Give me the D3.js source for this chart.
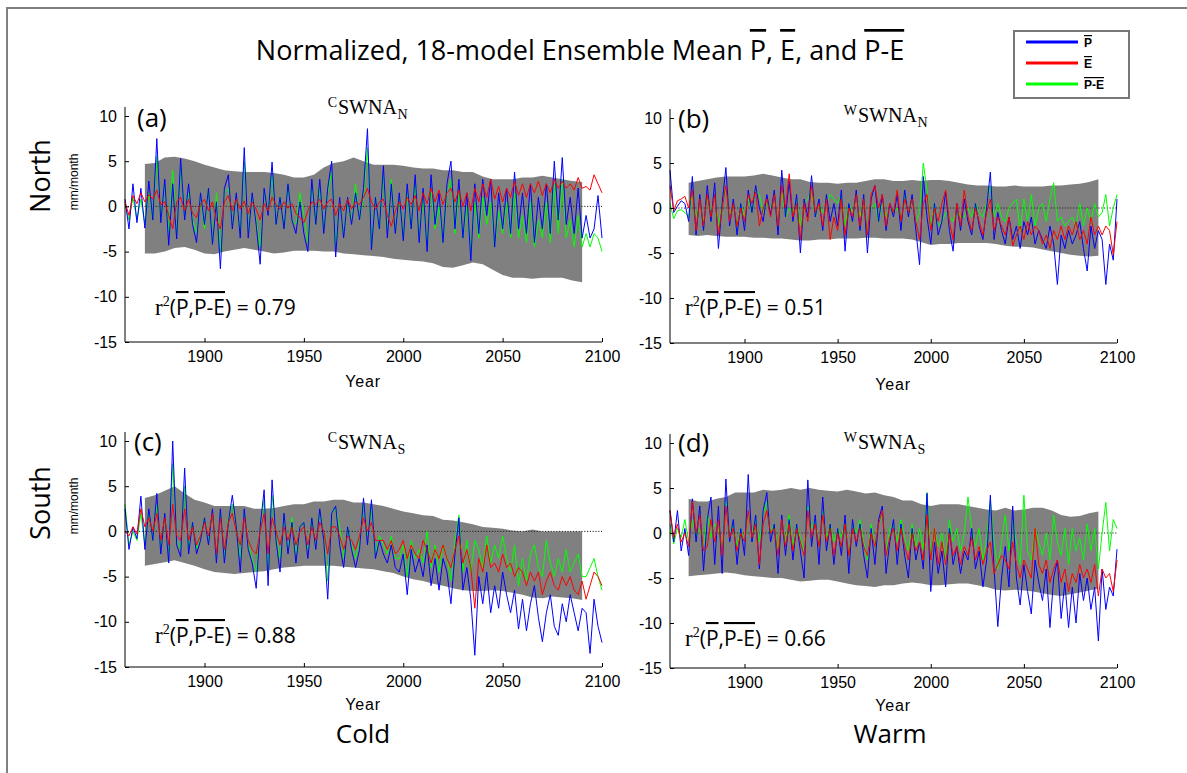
<!DOCTYPE html>
<html><head><meta charset="utf-8">
<script src="https://cdn.jsdelivr.net/npm/d3@7"></script>
<style>body{margin:0;background:#fff}svg{display:block}</style>
</head><body>
<svg id="chart" width="1187" height="773"></svg>
<script>
// ---------- DATA ----------
const yearsLine = [1860,1862,1864,1866,1868,1870,1872,1874,1876,1878,
1880,1882,1884,1886,1888,1890,1892,1894,1896,1898,
1900,1902,1904,1906,1908,1910,1912,1914,1916,1918,
1920,1922,1924,1926,1928,1930,1932,1934,1936,1938,
1940,1942,1944,1946,1948,1950,1952,1954,1956,1958,
1960,1962,1964,1966,1968,1970,1972,1974,1976,1978,
1980,1982,1984,1986,1988,1990,1992,1994,1996,1998,
2000,2002,2004,2006,2008,2010,2012,2014,2016,2018,
2020,2022,2024,2026,2028,2030,2032,2034,2036,2038,
2040,2042,2044,2046,2048,2050,2052,2054,2056,2058,
2060,2062,2064,2066,2068,2070,2072,2074,2076,2078,
2080,2082,2084,2086,2088,2090,2092,2094,2096,2098,
2100];
const yearsEnv = [1870,1875,1880,1885,1890,1895,
1900,1905,1910,1915,1920,1925,1930,1935,1940,1945,
1950,1955,1960,1965,1970,1975,1980,1985,1990,1995,
2000,2005,2010,2015,2020,2025,2030,2035,2040,2045,
2050,2055,2060,2065,2070,2075,2080,2085,2090];
const xTicks = [1900,1950,2000,2050,2100];
const yTicks = [-15,-10,-5,0,5,10];

// (a) Cold North
const aP = [0.8,-2.5,2.5,-1.8,2.0,-2.4,2.8,-1.5,7.5,-1.8,
3.0,-4.3,2.5,-3.6,5.3,-1.5,2.5,-2.0,-4.0,1.5,
-2.0,2.0,-4.2,0.5,-6.9,2.0,3.5,-2.5,1.5,-3.5,
6.5,-3.5,1.5,-2.0,-6.4,2.0,-1.0,4.9,-2.0,1.0,
-2.5,2.5,-1.5,-3.0,0.5,-3.0,-5.0,3.0,-2.0,3.0,
-3.0,2.0,5.0,-5.6,1.0,-3.5,1.0,-2.0,1.5,-1.5,
2.0,8.6,-4.8,1.0,-2.5,4.5,-3.5,2.5,-3.0,1.5,
-3.8,2.5,-2.5,3.5,-4.0,2.0,-5.0,3.5,-2.0,1.5,
-4.0,2.5,5.0,-2.5,3.0,-3.5,1.5,-6.0,2.5,-3.0,
3.0,-1.0,3.0,-4.5,1.5,-2.5,2.0,-3.0,3.8,-2.5,
1.5,-3.0,2.5,-4.0,1.0,-2.5,2.5,-3.0,5.0,-1.5,
5.4,-2.0,1.0,-3.0,2.0,-3.5,-1.0,-3.5,-2.5,1.2,
-3.5];
const aE = [0.5,-1.0,1.2,0.3,1.5,0.5,1.3,0.8,1.8,0.2,
0.5,-1.0,-2.5,0.5,1.0,-0.5,0.8,-0.8,-1.2,0.3,
0.8,-0.5,0.5,-1.5,-2.5,0.5,1.2,-0.5,0.8,-0.3,
0.6,-0.8,0.5,-0.3,-1.5,0.3,-0.5,1.0,0.2,-0.3,
0.5,-0.2,0.3,-0.8,-1.2,-1.8,-0.5,0.5,0.2,0.8,
-0.3,0.5,0.8,-1.0,0.3,-0.5,0.8,-0.3,0.5,0.2,
1.0,2.0,0.5,-0.3,0.5,0.8,-1.0,-2.2,-0.5,0.5,
-0.3,1.0,0.2,1.2,-0.5,1.5,0.3,2.0,0.5,1.8,
0.2,1.5,2.0,0.5,1.8,0.0,1.5,-0.5,2.0,0.5,
2.5,1.0,3.0,0.8,2.2,0.5,2.0,1.0,2.8,1.2,
2.5,1.0,2.5,1.5,2.8,1.2,2.5,1.5,3.0,2.0,
2.8,2.0,2.5,1.8,3.2,2.0,2.2,1.8,3.5,2.5,
1.5];
const aPE = [0.3,-1.5,1.0,-1.5,0.8,-2.0,1.5,-1.5,5.5,-1.5,
2.5,-3.0,4.0,-3.0,4.5,-1.0,1.5,-1.5,-3.0,1.0,
-2.5,2.0,-4.0,1.5,-5.0,1.5,2.0,-2.0,0.8,-3.0,
5.0,-2.8,1.0,-1.5,-4.5,1.5,-0.5,3.5,-2.0,1.0,
-2.5,2.5,-1.5,-2.0,1.5,-1.0,-4.0,2.5,-2.0,2.0,
-2.5,1.5,3.8,-4.5,0.5,-3.0,0.3,-1.5,2.5,-1.5,
1.0,6.5,-4.5,1.0,-2.5,3.5,-2.5,3.0,-2.5,1.0,
-3.5,1.5,-2.5,2.5,-3.5,0.8,-4.5,2.0,-2.5,0.0,
-4.0,1.5,3.0,-3.0,1.5,-3.5,0.0,-5.0,0.5,-3.5,
1.0,-2.0,0.5,-4.5,-0.5,-3.0,0.5,-3.5,1.5,-3.5,
-1.0,-4.0,0.5,-4.5,-1.5,-3.5,0.5,-4.0,2.5,-3.0,
3.0,-3.5,-1.5,-4.5,-1.0,-4.5,-3.0,-4.5,-3.0,-3.5,
-5.0];
const aUp = [4.7,4.8,5.4,5.5,5.3,5.0,
4.6,4.3,4.0,3.9,3.8,3.8,3.8,3.7,3.5,3.2,
3.2,3.5,4.3,4.8,5.0,5.4,5.0,4.6,4.6,4.6,
4.5,4.3,4.2,4.2,4.0,4.0,3.8,3.8,3.3,3.0,
3.0,3.0,3.2,3.2,3.4,3.2,3.0,2.8,2.7];
const aLo = [-5.2,-5.2,-5.0,-4.6,-4.5,-4.8,
-5.2,-5.3,-5.0,-4.8,-4.6,-4.8,-5.0,-5.2,-5.1,-4.9,
-4.9,-4.9,-5.0,-5.0,-5.2,-5.3,-5.4,-5.5,-5.6,-5.8,
-5.9,-6.0,-6.1,-6.3,-6.7,-6.8,-6.5,-6.2,-6.4,-7.0,
-7.6,-7.9,-7.9,-8.0,-7.9,-7.9,-7.9,-8.2,-8.4];

// (b) Warm North
const bP = [4.2,-0.5,0.2,0.8,0.5,-1.5,3.5,-3.0,1.5,-2.5,
2.5,-1.5,2.8,-4.5,0.5,4.5,-2.0,1.0,-3.0,0.5,
-2.5,2.0,-0.5,2.5,0.0,-1.5,1.5,-0.8,2.0,-3.0,
4.2,-1.0,3.0,-1.5,1.5,-5.0,1.0,-1.0,3.6,-1.0,
1.0,-2.5,1.5,-1.5,0.5,-2.0,2.0,-4.8,0.5,-1.5,
2.0,-2.5,1.5,-5.0,1.0,2.5,-1.5,1.5,-2.5,0.5,
-1.0,1.5,-2.5,2.0,-1.0,1.5,-2.5,-6.3,3.5,-1.0,
-4.0,0.5,-3.0,-1.5,1.8,-2.5,-4.8,0.5,-2.5,1.0,
-1.5,-3.0,0.5,-2.0,-3.5,0.0,4.0,-3.5,-0.5,-2.5,
-4.0,-1.0,-3.5,-2.0,-4.5,-1.5,-3.0,-1.0,-4.0,-2.5,
-3.5,-4.5,-2.0,-4.0,-8.5,-3.0,-4.5,-2.5,-4.0,-3.0,
-1.5,-4.5,-7.0,-2.0,-4.5,-2.5,-3.5,-8.5,-4.0,-5.8,
1.0];
const bE = [2.5,-0.3,0.8,1.0,1.3,0.0,2.0,-2.5,1.0,-2.0,
1.5,-1.0,1.5,-3.0,0.0,2.5,-1.5,0.5,-2.0,0.0,
-1.5,1.5,0.5,1.8,-2.0,0.0,1.0,-1.0,1.5,-2.0,
2.5,0.0,3.8,-1.0,0.5,-3.5,0.5,-1.5,2.5,-0.5,
0.5,-2.0,1.0,-3.5,-1.0,-2.5,1.0,-3.0,0.0,-1.0,
1.5,-2.0,1.0,-3.0,1.5,2.5,0.0,1.5,-2.0,0.5,
-0.5,2.0,-1.5,1.0,-0.5,1.0,-1.5,-3.5,0.5,1.5,
-2.5,0.0,-1.5,0.5,2.0,-1.5,-3.5,0.5,-2.0,2.0,
-1.0,-2.5,0.0,-1.5,-3.0,-0.5,1.0,-2.5,-1.0,-2.0,
-3.0,-1.0,-4.2,-3.0,-2.0,-3.5,-1.5,-3.0,-2.0,-2.5,
-4.0,-3.0,-4.5,-2.5,-3.5,-2.0,-3.5,-2.0,-3.0,-1.5,
-3.5,-2.5,-4.0,-1.0,-3.0,-2.0,-3.0,-2.0,-2.5,-5.2,
-1.5];
const bPE = [0.5,-1.2,-0.3,-0.2,-0.5,-1.0,1.5,-1.0,0.5,-1.5,
1.0,-0.5,1.5,-2.0,0.5,2.0,-1.0,0.5,-2.0,0.5,
-1.0,1.0,-0.5,2.0,1.5,-0.5,0.5,0.0,1.0,-1.5,
2.0,-1.0,0.0,-0.5,1.0,-2.0,0.5,1.0,2.0,-1.0,
0.5,-0.5,0.5,1.5,1.0,0.5,1.5,-2.0,0.5,-0.5,
1.0,-1.0,1.0,-2.5,0.0,0.5,-1.5,0.5,-1.0,0.0,
-0.5,0.0,-1.5,1.5,-0.5,1.0,-1.5,-0.5,5.0,2.0,
-2.0,0.5,-2.0,-1.5,-0.5,-1.0,-1.5,0.0,-1.0,-1.0,
0.0,-1.0,0.5,-0.5,-1.0,0.5,2.5,-1.0,0.5,-1.0,
-1.5,0.0,0.5,1.0,-2.5,1.0,-1.5,1.5,-2.0,0.0,
0.5,-1.5,1.0,2.8,-1.5,-1.0,-2.0,-1.5,-1.0,-2.0,
0.5,-2.0,0.0,-1.5,0.5,-1.0,-0.5,1.5,-2.0,0.0,
1.5];
const bUp = [2.8,3.0,3.2,3.4,3.5,3.5,
3.5,3.6,3.8,3.6,3.4,3.2,3.2,2.9,2.8,2.8,
2.7,2.8,2.8,3.0,3.2,3.2,3.0,3.0,3.1,3.0,
3.1,3.1,3.0,2.8,2.6,2.5,2.5,2.4,2.4,2.5,
2.4,2.4,2.4,2.5,2.5,2.6,2.7,2.9,3.2];
const bLo = [-3.0,-3.1,-3.0,-3.1,-3.2,-3.2,
-3.2,-3.3,-3.3,-3.4,-3.4,-3.5,-3.6,-3.6,-3.5,-3.5,
-3.4,-3.4,-3.4,-3.3,-3.3,-3.4,-3.4,-3.4,-3.5,-3.8,
-4.1,-4.0,-4.0,-3.9,-3.9,-3.9,-3.9,-4.0,-4.2,-4.3,
-4.3,-4.4,-4.6,-4.8,-5.0,-5.2,-5.3,-5.4,-5.3];

// (c) Cold South
const cP = [2.5,-2.0,0.5,-0.8,3.9,-2.0,2.5,-1.0,4.2,-2.5,
2.0,-3.5,10.0,-1.5,-2.8,7.0,-2.5,1.0,-2.5,-1.0,
1.5,-1.5,2.5,-3.5,2.5,-3.5,1.0,4.0,0.5,-4.5,
2.5,-2.0,-3.5,-6.3,0.5,4.6,-6.0,5.7,-1.0,-4.5,
2.0,-2.5,1.0,-3.5,0.5,1.0,-3.0,1.5,-2.0,2.5,
-1.0,-7.5,2.0,2.8,-1.5,-4.0,0.5,-2.0,-4.0,-2.0,
3.7,-1.5,3.5,-3.0,-1.0,-2.5,-3.5,-1.5,-4.0,-4.5,
-2.5,-7.0,-2.0,-4.5,-3.0,-5.0,-1.5,-6.0,-3.0,-6.5,
-3.0,-4.5,-8.0,-2.5,1.5,-6.5,-4.0,-7.5,-13.7,-5.0,
-8.0,-4.5,-9.0,-6.0,-8.5,-4.5,-7.0,-9.0,-6.5,-10.8,
-7.5,-11.0,-8.0,-6.0,-9.5,-12.2,-9.0,-7.0,-10.5,-11.5,
-8.0,-10.0,-7.0,-9.0,-11.0,-8.5,-9.0,-13.5,-7.5,-10.5,
-12.3];
const cE = [0.0,-0.5,0.5,-0.3,2.5,0.5,1.5,0.0,2.0,-1.0,
1.5,-1.5,3.0,-0.5,-1.0,2.5,-1.0,0.5,-1.5,-0.5,
1.0,-0.5,2.0,-2.5,1.5,-2.0,1.0,2.0,0.0,-1.5,
1.5,-1.0,-2.0,-2.5,0.0,2.0,-2.5,1.5,0.0,-1.5,
0.5,-1.0,0.5,-1.5,0.0,0.5,-1.5,0.5,-1.0,1.0,
0.0,-2.5,0.5,0.5,-0.5,-2.0,-0.5,-1.0,-2.0,-0.5,
1.5,0.0,1.0,-1.0,-1.0,-1.0,-2.0,-1.0,-2.5,-2.0,
-1.0,-3.0,-1.5,-2.5,-3.0,-1.0,-2.0,-3.5,-2.0,-3.0,
-1.5,-3.0,-4.0,-2.0,-0.5,-3.5,-2.0,-4.0,-8.5,-3.0,
-4.5,-1.5,-4.0,-3.5,-4.5,-2.5,-4.0,-3.5,-5.0,-4.0,
-4.5,-6.0,-4.5,-5.5,-4.5,-7.0,-5.5,-4.5,-6.0,-6.5,
-5.0,-6.0,-5.0,-6.5,-7.0,-5.5,-7.5,-6.0,-4.5,-5.0,
-6.0];
const cPE = [3.0,-1.5,0.0,-1.0,2.0,-1.5,2.0,-1.0,3.0,-2.0,
1.5,-2.5,7.5,-1.0,-2.0,5.0,-2.0,1.0,-2.0,-0.5,
1.5,-1.0,2.0,-3.0,2.0,-3.0,1.5,3.0,0.5,-3.0,
2.0,-1.5,-3.0,-4.5,0.5,3.5,-4.5,4.0,-0.5,-3.0,
1.5,-2.0,1.5,-2.5,0.5,1.0,-2.0,1.5,-1.5,2.0,
-0.5,-5.5,2.0,2.5,0.5,-3.0,0.5,-1.5,-3.0,-1.0,
3.0,-0.5,2.5,-2.5,-0.5,-1.5,-2.5,-0.5,-3.0,-3.0,
-1.5,-5.0,-1.0,-3.0,-2.0,-3.5,0.0,-4.0,-1.5,-4.5,
-1.5,-3.0,-5.5,-1.0,1.8,-4.5,-1.0,-4.5,-1.0,-2.0,
-4.0,-0.5,-3.5,-1.5,-3.0,-0.5,-3.0,-4.5,-1.5,-6.0,
-3.0,-5.5,-2.5,-1.5,-4.0,-5.0,-1.0,-3.5,-5.0,-3.0,
-4.5,-2.0,-4.5,-3.5,-2.5,-5.0,-5.0,-4.0,-3.0,-5.0,
-6.5];
const cUp = [3.7,4.0,4.5,5.0,4.2,3.5,
3.2,2.8,2.8,2.8,2.8,2.5,2.5,2.6,2.8,3.0,
3.0,3.3,3.3,3.5,3.5,3.2,3.2,3.0,2.8,2.5,
2.2,2.0,1.8,1.7,1.3,1.2,1.0,0.8,0.5,0.4,
0.3,0.1,0.0,0.2,0.0,0.0,0.0,0.0,0.0];
const cLo = [-3.8,-3.6,-3.4,-3.2,-3.5,-3.8,
-4.2,-4.5,-4.6,-4.7,-4.6,-4.5,-4.4,-4.2,-4.0,-3.9,
-3.8,-3.8,-3.8,-3.8,-3.9,-4.0,-4.1,-4.2,-4.4,-4.6,
-5.0,-5.3,-5.5,-5.8,-6.0,-6.3,-6.5,-6.6,-6.6,-6.5,
-6.6,-6.8,-7.0,-7.3,-7.4,-7.2,-7.3,-7.4,-7.6];

// (d) Warm South
const dP = [2.5,-1.0,2.5,-2.0,0.5,-2.5,3.8,-1.0,3.0,-4.2,
1.5,4.0,-3.5,3.0,-4.5,6.0,-1.0,1.5,-3.5,0.5,
-2.5,6.5,-1.0,2.0,-4.0,2.5,4.5,-1.0,1.0,-4.5,
2.0,-2.5,1.5,-3.0,1.0,-2.0,-5.0,5.9,-1.5,2.0,
-3.5,4.0,-2.0,1.0,-3.5,0.5,-2.5,2.0,-4.5,1.5,
-1.5,1.0,-2.5,-5.0,0.5,-3.5,1.5,3.0,-4.5,-1.0,
1.5,-3.5,1.0,-2.5,-5.0,0.5,-3.0,-1.0,-4.0,4.4,
-6.5,-1.0,-4.5,-2.0,-6.0,0.5,-3.5,-1.5,-4.5,-2.0,
-3.0,0.5,-4.0,-2.0,-6.0,-3.0,4.2,-4.0,-10.4,-5.0,
-1.5,-6.0,3.0,-5.0,-8.0,-3.5,-6.5,-9.0,-3.0,-5.5,
-7.5,-4.0,-10.5,-5.0,-3.0,-9.5,-5.5,-10.5,-6.0,-10.0,
-4.5,-7.5,-5.0,-8.5,-6.0,-12.0,-4.0,-8.5,-6.0,-7.0,
-1.8];
const dE = [2.5,-0.5,1.0,-1.0,0.0,-1.5,3.5,0.0,2.0,-2.0,
-1.5,1.5,-1.0,1.5,-2.5,3.0,-0.5,0.5,-2.0,0.0,
-1.0,2.5,-0.5,1.0,-3.5,1.0,2.5,0.0,0.5,-2.5,
1.5,-1.5,1.0,-2.0,0.5,-1.0,-2.5,2.5,-0.5,1.0,
-1.5,2.0,-1.0,0.5,-2.5,0.0,-1.5,1.0,-2.5,0.5,
-1.0,0.5,-1.5,-2.5,0.0,-1.5,1.0,2.5,-2.5,-0.5,
0.5,-2.0,0.5,-1.5,-3.0,0.0,-2.0,-1.0,-3.0,2.0,
-3.0,0.5,-3.5,-1.0,-3.5,0.0,-2.5,-1.5,-3.5,-1.5,
-2.5,-0.5,-3.0,-1.5,-3.5,-2.0,-1.0,-4.5,-3.5,-2.5,
-3.0,-4.0,-1.0,-3.5,-5.0,-3.0,-4.0,-5.0,0.5,-3.5,
-4.5,-3.0,-5.5,-4.0,-3.0,-5.5,-4.0,-6.5,-4.5,-5.5,
-3.5,-5.0,-4.0,-5.5,-3.5,-7.0,-4.0,-5.0,-4.5,-6.5,
-3.0];
const dPE = [1.0,-1.2,0.5,-0.5,1.5,-1.0,1.5,-0.5,0.5,-1.5,
2.0,-0.5,1.0,0.5,-2.0,3.5,0.0,1.0,-1.5,0.5,
-1.0,2.0,0.0,1.5,-1.0,2.0,3.5,0.0,1.0,-2.0,
1.5,-1.0,2.0,-1.5,1.0,-0.5,-2.0,3.0,0.5,1.5,
-1.5,2.5,-0.5,1.0,-1.0,0.5,-0.5,1.5,-2.5,1.0,
0.0,1.5,-1.0,-3.0,1.0,-1.5,1.0,2.0,-2.0,0.5,
1.0,-1.0,1.5,-0.5,-2.0,1.0,-1.5,0.5,-2.0,4.5,
-2.5,0.5,-1.5,0.0,-3.0,1.5,-1.0,0.5,-2.0,0.0,
4.0,0.5,-1.5,0.5,-3.0,-0.5,3.5,-1.0,-4.0,-1.0,
2.0,-2.0,1.5,-1.0,-3.5,4.2,-2.0,-3.0,0.5,-1.0,
-2.5,0.0,-3.0,2.0,-1.0,-2.5,0.5,-3.5,0.5,-2.0,
-0.5,-3.0,1.0,-2.0,0.5,-4.0,0.0,3.4,-2.0,1.5,
0.5];
const dUp = [3.8,3.5,3.5,3.8,4.0,4.5,
4.5,4.5,4.8,4.7,4.8,5.0,4.8,5.0,4.8,4.7,
4.6,4.8,4.6,4.4,4.5,4.2,4.0,3.6,3.6,3.2,
3.0,3.2,3.2,3.2,3.0,2.8,2.6,2.5,2.8,2.5,
2.6,2.8,2.8,2.5,2.0,1.8,1.9,2.2,2.4];
const dLo = [-4.8,-4.7,-4.6,-4.5,-4.4,-4.5,
-4.7,-4.8,-4.9,-5.0,-5.0,-5.2,-5.4,-5.3,-5.2,-5.2,
-5.4,-5.6,-5.8,-5.9,-6.0,-5.8,-5.8,-5.6,-5.5,-5.6,
-5.8,-5.8,-5.7,-5.6,-5.6,-5.8,-6.0,-6.3,-6.4,-6.3,
-6.4,-6.5,-6.7,-6.9,-7.0,-6.8,-6.6,-6.4,-6.2];

const panelLetters = ["(a)","(b)","(c)","(d)"];
const regionSup = ["C","W","C","W"];
const regionSub = ["N","N","S","S"];
const r2Values = ["0.79","0.51","0.88","0.66"];

// ---------- STYLE / LAYOUT ----------
const COL_P = "#0000ff", COL_E = "#ff0000", COL_PE = "#00ff00";
const GRAY = "#808080";
const layout = [
  {x0:125, x1:602, yTop:116, yBot:342, lab:[137,127], sw:[338,114], r2:[155,315], year:[363,387]},
  {x0:670, x1:1117, yTop:118, yBot:343, lab:[678,128], sw:[858,122], r2:[685,315], year:[893,390]},
  {x0:125, x1:602, yTop:441, yBot:667, lab:[134,451], sw:[338,449], r2:[155,643], year:[363,710]},
  {x0:670, x1:1117, yTop:443, yBot:668, lab:[678,452], sw:[858,449], r2:[685,646], year:[893,711]}
];
const series = [
  {P:aP,E:aE,PE:aPE,up:aUp,lo:aLo},
  {P:bP,E:bE,PE:bPE,up:bUp,lo:bLo},
  {P:cP,E:cE,PE:cPE,up:cUp,lo:cLo},
  {P:dP,E:dE,PE:dPE,up:dUp,lo:dLo}
];

const svg = d3.select("#chart");
svg.append("rect").attr("width",1187).attr("height",773).attr("fill","#fff");
svg.append("path").attr("d","M7,773V8H1187").attr("fill","none").attr("stroke",GRAY).attr("stroke-width",2);

const SANS = "'Open Sans', sans-serif";
const AX = "'Liberation Sans', Arial, sans-serif";
const SERIF = "'Liberation Serif', 'Times New Roman', serif";

series.forEach((s,k)=>{
  const L = layout[k];
  const x = d3.scaleLinear().domain([1860,2100]).range([L.x0,L.x1]);
  const y = d3.scaleLinear().domain([-15,10]).range([L.yBot,L.yTop]);
  const g = svg.append("g");

  const area = d3.area().x((d,i)=>x(yearsEnv[i])).y0((d,i)=>y(s.lo[i])).y1(d=>y(d));
  g.append("path").datum(s.up).attr("d",area).attr("fill",GRAY);

  g.append("line").attr("x1",x(1860)).attr("x2",x(2100)).attr("y1",y(0)).attr("y2",y(0))
    .attr("stroke","#222").attr("stroke-width",1).attr("stroke-dasharray","1.2,1.6");

  const line = d3.line().x((d,i)=>x(yearsLine[i])).y(d=>y(d));
  [[s.PE,COL_PE],[s.P,COL_P],[s.E,COL_E]].forEach(([arr,c])=>{
    g.append("path").datum(arr).attr("d",line).attr("fill","none").attr("stroke",c).attr("stroke-width",1);
  });

  const ya = g.append("g").attr("transform",`translate(${L.x0},0)`)
    .call(d3.axisLeft(y).tickValues(yTicks).tickSize(-4).tickPadding(8).tickFormat(d=>String(d)));
  const xa = g.append("g").attr("transform",`translate(0,${L.yBot})`)
    .call(d3.axisBottom(x).tickValues(xTicks).tickSize(-4).tickPadding(9).tickFormat(d=>String(d)));
  [ya,xa].forEach(a=>{
    a.select(".domain").remove();
    a.selectAll("text").attr("font-family",AX).attr("font-size",16).attr("fill","#000");
    a.selectAll("line").attr("stroke","#000");
  });
  g.append("path").attr("d",`M${L.x0},${y(11)}V${L.yBot}H${L.x1}`).attr("fill","none").attr("stroke","#000").attr("stroke-width",1);

  g.append("text").attr("x",L.year[0]).attr("y",L.year[1]).attr("text-anchor","middle")
    .attr("font-family",AX).attr("font-size",16).attr("letter-spacing",0.8).text("Year");

  g.append("text").attr("x",L.lab[0]).attr("y",L.lab[1]).attr("font-family",SANS).attr("font-size",26).text(panelLetters[k]);

  g.append("text").attr("x",L.sw[0]-1).attr("y",L.sw[1]-7).attr("text-anchor","end")
    .attr("font-family",SERIF).attr("font-size",14).text(regionSup[k]);
  const main = g.append("text").attr("x",L.sw[0]).attr("y",L.sw[1])
    .attr("font-family",SERIF).attr("font-size",20).text("SWNA");
  const w = main.node().getComputedTextLength();
  g.append("text").attr("x",L.sw[0]+w+0.5).attr("y",L.sw[1]+5)
    .attr("font-family",SERIF).attr("font-size",14).text(regionSub[k]);

  const rt = g.append("text").attr("x",L.r2[0]).attr("y",L.r2[1]);
  rt.append("tspan").attr("font-family",SERIF).attr("font-size",23).text("r");
  rt.append("tspan").attr("font-family",SERIF).attr("font-size",14).attr("dy",-9).text("2");
  rt.append("tspan").attr("font-family",SANS).attr("font-size",21).attr("dy",9).text("(");
  rt.append("tspan").attr("font-family",SANS).attr("font-size",21).style("text-decoration","overline").text("P");
  rt.append("tspan").attr("font-family",SANS).attr("font-size",21).text(",");
  rt.append("tspan").attr("font-family",SANS).attr("font-size",21).style("text-decoration","overline").text("P-E");
  rt.append("tspan").attr("font-family",SANS).attr("font-size",21).text(") = " + r2Values[k]);
});

// Title
const title = svg.append("text").attr("x",580).attr("y",60).attr("text-anchor","middle")
  .attr("font-family",SANS).attr("font-size",27);
[["Normalized, 18-model Ensemble Mean ",false],["P",true],[", ",false],["E",true],[", and ",false],["P-E",true]]
  .forEach(([t,o])=>{ const ts=title.append("tspan").text(t); if(o) ts.style("text-decoration","overline"); });

// row / column labels
svg.append("text").attr("transform","translate(50,176) rotate(-90)").attr("text-anchor","middle")
  .attr("font-family",SANS).attr("font-size",27).text("North");
svg.append("text").attr("transform","translate(50,503) rotate(-90)").attr("text-anchor","middle")
  .attr("font-family",SANS).attr("font-size",27).text("South");
svg.append("text").attr("transform","translate(78,182) rotate(-90)").attr("text-anchor","middle")
  .attr("font-family",AX).attr("font-size",12).text("mm/month");
svg.append("text").attr("transform","translate(78,506) rotate(-90)").attr("text-anchor","middle")
  .attr("font-family",AX).attr("font-size",12).text("mm/month");
svg.append("text").attr("x",363).attr("y",743).attr("text-anchor","middle")
  .attr("font-family",SANS).attr("font-size",26).text("Cold");
svg.append("text").attr("x",890).attr("y",743).attr("text-anchor","middle")
  .attr("font-family",SANS).attr("font-size",26).text("Warm");

// Legend
const lg = svg.append("g");
lg.append("rect").attr("x",1014).attr("y",31).attr("width",115).attr("height",67)
  .attr("fill","#fff").attr("stroke","#777").attr("stroke-width",2);
const legendItems = [["P",COL_P],["E",COL_E],["P-E",COL_PE]];
legendItems.forEach(([t,c],i)=>{
  const yy = 42 + i*21;
  lg.append("line").attr("x1",1026).attr("x2",1078).attr("y1",yy).attr("y2",yy).attr("stroke",c).attr("stroke-width",3);
  lg.append("text").attr("x",1084).attr("y",yy+5).attr("font-family",AX).attr("font-weight","bold")
    .attr("font-size",12).style("text-decoration","overline").text(t);
});
</script>
</body></html>
